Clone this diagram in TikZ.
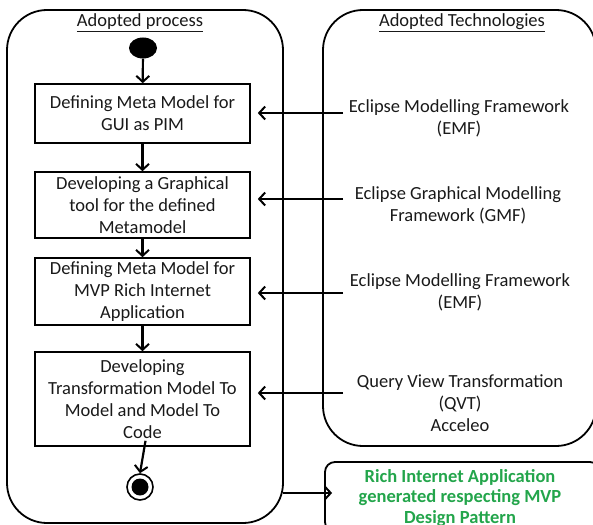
\documentclass[tikz,border=0pt]{standalone}
\usepackage{fontspec}
\setmainfont{Carlito}
\usetikzlibrary{arrows.meta,shapes.geometric}
\definecolor{rgreen}{RGB}{35,165,75}
\definecolor{txt}{RGB}{25,25,25}
\begin{document}
\begin{tikzpicture}[x=1pt,y=-1pt,
  every node/.style={font=\fontsize{18.5}{22}\selectfont, inner sep=0pt, text=txt},
  container/.style={draw, line width=1.8pt, rounded corners=40pt},
  stepbox/.style={draw, line width=1.6pt, minimum width=215pt, align=center},
  lbl/.style={align=center},
  arr/.style={line width=2.2pt, -{Straight Barb[length=6pt,width=13pt,line width=2pt]}},
]
\clip (0,0) rectangle (593,524);
% containers
\node[container, minimum width=276pt, minimum height=513pt] (lc) at (145,266.5) {};
\node[container, minimum width=273pt, minimum height=436pt] (rc) at (459.5,228) {};
\node[draw, line width=1.8pt, rounded corners=10pt, minimum width=275pt, minimum height=70pt] (gb) at (462.5,497) {};
% titles
\node[anchor=base] (t1) at (140,27) {\underline{Adopted process}};
\node[anchor=base] (t2) at (462,27) {\underline{Adopted Technologies}};
% start / end
\node[ellipse, fill=black, minimum width=28pt, minimum height=21pt] (start) at (143,48) {};
\node[circle, draw, line width=1.6pt, minimum size=26pt] (endo) at (140,487) {};
\node[circle, fill=black, minimum size=17pt] (endi) at (140,487) {};
% process boxes
\node[stepbox, minimum height=59pt] (b1) at (142.5,113.5) {Defining Meta Model for\\GUI as PIM};
\node[stepbox, minimum height=66pt] (b2) at (142.5,205) {Developing a Graphical\\tool for the defined\\Metamodel};
\node[stepbox, minimum height=67pt] (b3) at (142.5,291.5) {Defining Meta Model for\\MVP Rich Internet\\Application};
\node[stepbox, minimum height=94pt] (b4) at (142.5,399) {Developing\\Transformation Model To\\Model and Model To\\Code};
% technologies
\node[lbl] (e1) at (459,118) {Eclipse Modelling Framework\\(EMF)};
\node[lbl] (e2) at (458,205.5) {Eclipse Graphical Modelling\\Framework (GMF)};
\node[lbl] (e3) at (460,292) {Eclipse Modelling Framework\\(EMF)};
\node[lbl] (e4) at (460,403.5) {Query View Transformation\\(QVT)\\Acceleo};
\node[lbl, font=\fontsize{18.5}{20.5}\selectfont\bfseries, text=rgreen] (g1) at (460,498) {Rich Internet Application\\generated respecting MVP\\Design Pattern};
% arrow start points
\coordinate (s1) at (343,113);
\coordinate (s2) at (343,199);
\coordinate (s3) at (343,293);
\coordinate (s4) at (343,393);
\coordinate (s5) at (283,493);
% flow arrows
\draw[arr] (start) -- (b1);
\draw[arr] (b1) -- (b2);
\draw[arr] (b2) -- (b3);
\draw[arr] (b3) -- (b4);
\draw[arr] (b4.south) ++(3,-6) -- (endo.north);
% technology arrows
\draw[arr, shorten >=7pt] (s1) -- (s1 -| b1.east);
\draw[arr, shorten >=7pt] (s2) -- (s2 -| b2.east);
\draw[arr, shorten >=7pt] (s3) -- (s3 -| b3.east);
\draw[arr, shorten >=7pt] (s4) -- (s4 -| b4.east);
\draw[arr] (s5) -- (s5 -| gb.west) -- ++(8,0);
\end{tikzpicture}
\end{document}
